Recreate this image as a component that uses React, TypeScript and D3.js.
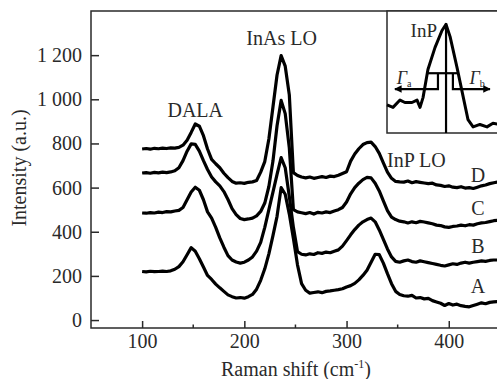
import React, { useEffect, useRef } from 'react';
import * as d3 from 'd3';

// Raman shift grid (cm-1), shared by the four spectra
const ramanShift = [
  100, 104, 108, 112, 116, 120, 124, 128, 132, 136,
  140, 144, 148, 152, 156, 160, 164, 168, 172, 176,
  180, 184, 188, 192, 196, 200, 204, 208, 212, 216,
  220, 224, 228, 232, 236, 240, 244, 248, 252, 256,
  260, 264, 268, 272, 276, 280, 284, 288, 292, 296,
  300, 304, 308, 312, 316, 320, 324, 328, 332, 336,
  340, 344, 348, 352, 356, 360, 364, 368, 372, 376,
  380, 384, 388, 392, 396, 400, 404, 408, 412, 416,
  420, 424, 428, 432, 436, 440, 444, 448, 452,
];

const intensityA = [
  220, 218, 221, 219, 220, 222, 220, 223, 230, 242,
  264, 296, 328, 312, 278, 240, 202, 184, 163, 146,
  130, 114, 106, 100, 102, 99, 106, 116, 140, 180,
  232, 300, 382, 470, 600, 570, 480, 370, 250, 165,
  135, 122, 125, 128, 124, 130, 132, 135, 138, 142,
  150, 156, 166, 182, 202, 226, 262, 298, 296, 258,
  210, 165, 130, 116, 110, 108, 112, 100, 102, 96,
  98, 88, 82, 76, 66, 75, 68, 72, 65, 62,
  60, 66, 72, 78, 74, 80, 82, 84, 85,
];

const intensityB = [
  485, 484, 487, 485, 489, 487, 491, 490, 494, 497,
  510, 545, 580, 602, 588, 545, 490, 462, 420, 372,
  330, 292, 272, 263, 258, 262, 272, 286, 312, 352,
  420, 500, 580, 660, 736, 690, 560, 420, 310, 298,
  295, 300, 297, 305, 302, 308, 305, 312, 318, 335,
  360, 386, 410, 430, 445, 455, 462, 445, 408, 365,
  322, 286, 266, 262, 268, 272, 265, 262, 268, 264,
  260, 256, 252, 248, 245, 250, 255, 252, 258, 262,
  258, 262, 265, 268, 266, 270, 272, 272, 275,
];

const intensityC = [
  666, 668, 665, 669, 667, 670, 668, 671, 676, 690,
  722, 765, 798, 796, 765, 722, 682, 648, 626, 608,
  582, 546, 505, 478, 460, 455, 458, 462, 472, 492,
  530, 605, 720, 880, 995, 935, 780, 500, 490, 486,
  482, 487, 480, 488, 485, 490, 487, 494, 500, 510,
  535, 572, 600, 620, 636, 646, 644, 620, 585, 540,
  496, 466, 455, 448, 445, 440, 445, 441, 447, 444,
  440, 436, 430, 428, 422, 420, 424, 426, 430, 427,
  432, 430, 436, 440, 442, 446, 450, 452, 455,
];

const intensityD = [
  775, 777, 774, 778, 776, 779, 777, 780, 779, 782,
  792, 815, 850, 888, 878, 835, 775, 728, 708, 690,
  665, 645, 628, 620, 622, 619, 624, 626, 632, 670,
  718, 820, 965, 1110, 1198, 1150, 1020, 668, 655, 648,
  644, 648, 642, 646, 650, 646, 652, 650, 656, 664,
  672, 720, 752, 776, 795, 804, 806, 786, 755, 712,
  670, 642, 628, 626, 625, 630, 622, 627, 624, 621,
  618, 620, 612, 610, 605, 608, 602, 600, 604, 598,
  600, 596, 602, 608, 612, 618, 622, 625, 628,
];

const seriesLabels = ['A', 'B', 'C', 'D'];
const labelLevels = [154, 335, 507, 657];

const xTicks = [100, 200, 300, 400];
const xMinorTicks = [150, 250, 350, 450];
const yTicks = [0, 200, 400, 600, 800, 1000, 1200];

// inset: InP LO peak with the two half widths
const insetShift = [290, 293.4, 297.4, 300.2, 304.2, 307.1, 308.8, 310.5, 313.3, 317.3, 321.3, 323.6, 325.9, 329.8, 333.3, 336.1, 339, 342.9, 346.9, 350.3, 354.3];
const insetIntensity = [0.23, 0.21, 0.27, 0.25, 0.25, 0.27, 0.21, 0.29, 0.52, 0.7, 0.84, 0.89, 0.79, 0.54, 0.3, 0.11, 0.05, 0.07, 0.05, 0.08, 0.07];
const insetPeak = 323.6;
const insetHalf = 0.49;
const insetHalfLeft = 313;
const insetHalfRight = 330.5;
const insetStepLeft = 319;
const insetStepRight = 327.5;
const insetArrowLevel = 0.36;
const insetArrowLeft = 294.5;
const insetArrowRight = 348.6;

const W = 497;
const H = 379;
const FONT = "'Liberation Serif', 'Times New Roman', Times, serif";

const App = () => {
  const svgRef = useRef(null);

  useEffect(() => {
    const svg = d3.select(svgRef.current);
    svg.selectAll('*').remove();

    const margin = { top: 11, left: 91, bottom: 51 };
    const plotRight = 551;
    const axisColor = '#2a2a2a';

    const x = d3.scaleLinear().domain([50, 500]).range([margin.left, plotRight]);
    const y = d3.scaleLinear().domain([-36, 1400]).range([H - margin.bottom, margin.top]);

    const locale = d3.formatLocale({ decimal: '.', thousands: ' ', grouping: [3], currency: ['', ''] });
    const fmt = locale.format(',');

    // spectra
    const line = d3.line()
      .x((d) => x(d[0]))
      .y((d) => y(d[1]))
      .curve(d3.curveLinear);

    const spectra = [intensityA, intensityB, intensityC, intensityD];
    spectra.forEach((vals) => {
      svg.append('path')
        .datum(ramanShift.map((s, i) => [s, vals[i]]))
        .attr('fill', 'none')
        .attr('stroke', '#000')
        .attr('stroke-width', 3.2)
        .attr('stroke-linejoin', 'round')
        .attr('d', line);
    });

    // axes
    const gx = svg.append('g')
      .attr('transform', `translate(0,${H - margin.bottom})`)
      .call(d3.axisBottom(x).tickValues(xTicks).tickSize(-7).tickPadding(6));
    gx.attr('font-family', FONT).attr('font-size', 20);
    gx.select('.domain').remove();
    gx.selectAll('.tick line').attr('stroke', axisColor).attr('stroke-width', 1.5);
    gx.selectAll('.tick text').attr('fill', axisColor);

    svg.append('g')
      .selectAll('line')
      .data(xMinorTicks)
      .join('line')
      .attr('x1', (d) => x(d))
      .attr('x2', (d) => x(d))
      .attr('y1', H - margin.bottom)
      .attr('y2', H - margin.bottom - 3.5)
      .attr('stroke', axisColor)
      .attr('stroke-width', 1.5);

    const gy = svg.append('g')
      .attr('transform', `translate(${margin.left},0)`)
      .call(d3.axisLeft(y).tickValues(yTicks).tickSize(-8).tickPadding(9).tickFormat((d) => fmt(d)));
    gy.attr('font-family', FONT).attr('font-size', 20);
    gy.select('.domain').remove();
    gy.selectAll('.tick line').attr('stroke', axisColor).attr('stroke-width', 1.5);
    gy.selectAll('.tick text').attr('fill', axisColor);

    // frame
    svg.append('rect')
      .attr('x', margin.left)
      .attr('y', margin.top)
      .attr('width', plotRight - margin.left)
      .attr('height', H - margin.bottom - margin.top)
      .attr('fill', 'none')
      .attr('stroke', axisColor)
      .attr('stroke-width', 1.5);

    // axis titles
    const xTitle = svg.append('text')
      .attr('x', 296)
      .attr('y', 376)
      .attr('text-anchor', 'middle')
      .attr('fill', axisColor)
      .attr('font-family', FONT)
      .attr('font-size', 20)
      .text('Raman shift (cm');
    xTitle.append('tspan')
      .attr('dy', -8)
      .attr('font-size', 12)
      .text('-1');
    xTitle.append('tspan')
      .attr('dy', 8)
      .text(')');

    svg.append('text')
      .attr('transform', `translate(26,${168}) rotate(-90)`)
      .attr('text-anchor', 'middle')
      .attr('fill', axisColor)
      .attr('font-family', FONT)
      .attr('font-size', 20)
      .text('Intensity (a.u.)');

    // peak annotations
    const note = (tx, ty, text, anchor = 'middle') => {
      svg.append('text')
        .attr('x', tx)
        .attr('y', ty)
        .attr('text-anchor', anchor)
        .attr('fill', axisColor)
        .attr('font-family', FONT)
        .attr('font-size', 20)
        .text(text);
    };
    note(x(152), 117, 'DALA');
    note(x(236.5), 45, 'InAs LO');
    note(387, 167, 'InP LO', 'start');

    seriesLabels.forEach((lab, i) => {
      note(478, y(labelLevels[i]) + 7, lab);
    });

    // inset
    const ix = d3.scaleLinear().domain([290, 360]).range([387, 510]);
    const iy = d3.scaleLinear().domain([0, 1]).range([133, 11]);

    svg.append('rect')
      .attr('x', 387)
      .attr('y', 11)
      .attr('width', 180)
      .attr('height', 122)
      .attr('fill', '#fff')
      .attr('stroke', axisColor)
      .attr('stroke-width', 1.5);

    const defs = svg.append('defs');
    defs.append('marker')
      .attr('id', 'arrow')
      .attr('viewBox', '0 0 10 10')
      .attr('refX', 9)
      .attr('refY', 5)
      .attr('markerWidth', 3.4)
      .attr('markerHeight', 3.4)
      .attr('orient', 'auto')
      .append('path')
      .attr('d', 'M0,0 L10,5 L0,10 z')
      .attr('fill', '#000');

    const insetLine = d3.line()
      .x((d) => ix(d[0]))
      .y((d) => iy(d[1]));

    svg.append('path')
      .datum(insetShift.map((s, i) => [s, insetIntensity[i]]))
      .attr('fill', 'none')
      .attr('stroke', '#000')
      .attr('stroke-width', 3)
      .attr('stroke-linejoin', 'round')
      .attr('d', insetLine);

    const seg = (pts, arrow = false) => {
      const p = svg.append('path')
        .attr('d', d3.line()(pts.map(([a, b]) => [ix(a), iy(b)])))
        .attr('fill', 'none')
        .attr('stroke', '#000')
        .attr('stroke-width', 2.2);
      if (arrow) p.attr('marker-end', 'url(#arrow)');
    };
    seg([[insetPeak, 0.9], [insetPeak, 0]]);
    seg([[insetHalfLeft, insetHalf], [insetHalfRight, insetHalf]]);
    seg([[insetStepLeft, insetHalf], [insetStepLeft, insetArrowLevel], [insetArrowLeft, insetArrowLevel]], true);
    seg([[insetStepRight, insetHalf], [insetStepRight, insetArrowLevel], [insetArrowRight, insetArrowLevel]], true);

    const gammaLabel = (gxPos, sub) => {
      const t = svg.append('text')
        .attr('x', gxPos)
        .attr('y', iy(0.4))
        .attr('fill', axisColor)
        .attr('font-family', FONT)
        .attr('font-size', 18)
        .attr('font-style', 'italic')
        .text('Γ');
      t.append('tspan')
        .attr('dy', 3)
        .attr('font-size', 10)
        .attr('font-style', 'normal')
        .text(sub);
    };
    gammaLabel(ix(295.5), 'a');
    gammaLabel(ix(337), 'b');

    svg.append('text')
      .attr('x', 437)
      .attr('y', 37)
      .attr('text-anchor', 'end')
      .attr('fill', axisColor)
      .attr('font-family', FONT)
      .attr('font-size', 19)
      .text('InP');
  }, []);

  return (
    <div style={{ position: 'absolute', top: 0, left: 0, width: W, height: H, background: '#fff' }}>
      <svg ref={svgRef} width={W} height={H} style={{ display: 'block' }}></svg>
    </div>
  );
};

export default App;
